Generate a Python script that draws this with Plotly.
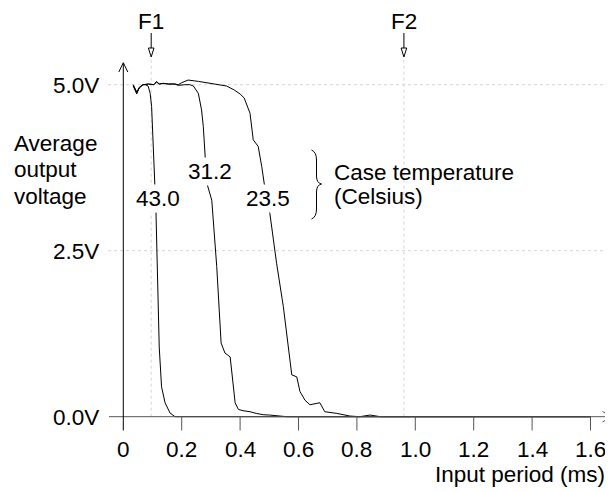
import plotly.graph_objects as go

# ---------------- data ----------------
x_43 = [0.034, 0.046, 0.055, 0.066, 0.075, 0.085, 0.092, 0.097, 0.112, 0.123,
        0.131, 0.143, 0.160, 0.177, 0.30, 0.60, 1.00, 1.60]
v_43 = [4.98, 4.86, 4.96, 5.00, 5.00, 4.98, 4.87, 4.67, 3.07, 1.05,
        0.45, 0.21, 0.056, 0.0, 0.0, 0.0, 0.0, 0.0]

x_31 = [0.034, 0.046, 0.055, 0.068, 0.086, 0.105, 0.114, 0.123, 0.137, 0.154,
        0.177, 0.188, 0.211, 0.228, 0.240, 0.257, 0.268, 0.274, 0.286, 0.303,
        0.320, 0.335, 0.348, 0.366, 0.383, 0.394, 0.410, 0.434, 0.455, 0.479,
        0.500, 0.525, 0.560, 0.80, 1.20, 1.60]
v_31 = [4.99, 4.88, 4.95, 5.00, 5.01, 5.00, 5.05, 5.01, 5.02, 5.01,
        5.01, 4.99, 5.00, 5.00, 4.98, 4.87, 4.62, 4.37, 3.52, 3.26,
        2.26, 1.11, 0.96, 0.90, 0.21, 0.11, 0.09, 0.075, 0.05, 0.03,
        0.025, 0.01, 0.0, 0.0, 0.0, 0.0]

x_23 = [0.034, 0.046, 0.055, 0.068, 0.086, 0.105, 0.114, 0.123, 0.137, 0.154,
        0.177, 0.188, 0.200, 0.222, 0.257, 0.287, 0.320, 0.354, 0.380, 0.400,
        0.414, 0.428, 0.434, 0.445, 0.462, 0.474, 0.485, 0.502, 0.525, 0.548,
        0.577, 0.594, 0.605, 0.622, 0.639, 0.673, 0.690, 0.731, 0.753, 0.776,
        0.810, 0.845, 0.880, 1.20, 1.60]
v_23 = [5.00, 4.89, 4.96, 5.00, 5.01, 5.00, 5.04, 5.01, 5.02, 5.01,
        5.01, 5.00, 5.03, 5.07, 5.05, 5.03, 5.00, 4.98, 4.92, 4.86,
        4.80, 4.64, 4.57, 4.17, 4.07, 3.77, 3.44, 3.06, 2.31, 1.66,
        0.63, 0.60, 0.38, 0.25, 0.18, 0.21, 0.075, 0.05, 0.035, 0.01,
        0.0, 0.025, 0.0, 0.0, 0.0]

curve_labels = ["43.0", "31.2", "23.5"]
label_x = [0.1205, 0.297, 0.497]
label_v = [3.28, 3.70, 3.28]

x_ticks = [0, 0.2, 0.4, 0.6, 0.8, 1.0, 1.2, 1.4, 1.6]
x_tick_text = ["0", "0.2", "0.4", "0.6", "0.8", "1.0", "1.2", "1.4", "1.6"]
y_ticks = [0.0, 2.5, 5.0]
y_tick_text = ["0.0V", "2.5V", "5.0V"]

freq_marks = [0.0955, 0.961]
freq_text = ["F1", "F2"]

# ---------------- geometry helpers (page pixel <-> data) ----------------
PAGE_W, PAGE_H = 613, 492
OFF = 8                          # default body margin of the html page
X0PX, XSCALE = 123.3, 292.0      # page px of x=0, px per ms
Y0PX, YSCALE = 416.7, 66.4       # page px of v=0, px per volt


def dx(p):
    return (p - X0PX) / XSCALE


def dy(p):
    return (Y0PX - p) / YSCALE


def px(x):
    return X0PX + x * XSCALE


XR = [dx(OFF), dx(PAGE_W)]
YR = [dy(PAGE_H), dy(OFF)]

FONT = dict(family="Liberation Sans, Arial, Helvetica, sans-serif", size=22.5, color="#000000")

fig = go.Figure()

for xs, vs in [(x_43, v_43), (x_31, v_31), (x_23, v_23)]:
    fig.add_trace(go.Scatter(x=xs, y=vs, mode="lines",
                             line=dict(color="#000000", width=1),
                             hoverinfo="skip", showlegend=False))

shapes = []
grid = dict(color="#d4d4d4", width=1, dash="dot")
for v in [2.5, 5.0]:
    shapes.append(dict(type="line", xref="x", yref="y", x0=dx(108), x1=dx(PAGE_W), y0=v, y1=v,
                       line=grid, layer="below"))
for f in freq_marks:
    shapes.append(dict(type="line", xref="x", yref="y", x0=f, x1=f, y0=0, y1=dy(58),
                       line=grid, layer="below"))

axis_gray = "#555555"
shapes.append(dict(type="line", xref="x", yref="y", x0=dx(109), x1=dx(611.5), y0=0, y1=0,
                   line=dict(color=axis_gray, width=1)))
shapes.append(dict(type="path", xref="x", yref="y",
                   path=f"M {dx(602.5)},{dy(411.5)} L {dx(612)},{dy(416.7)} L {dx(602.5)},{dy(421.9)}",
                   line=dict(color=axis_gray, width=1)))
for t in x_ticks[1:]:
    shapes.append(dict(type="line", xref="x", yref="y", x0=t, x1=t, y0=0, y1=dy(430.5),
                       line=dict(color=axis_gray, width=1)))
shapes.append(dict(type="line", xref="x", yref="y", x0=0, x1=0, y0=dy(430.5), y1=dy(63.5),
                   line=dict(color="#000000", width=1)))
shapes.append(dict(type="path", xref="x", yref="y",
                   path=f"M {dx(118.8)},{dy(72)} L {dx(123.3)},{dy(62.7)} L {dx(127.8)},{dy(72)}",
                   line=dict(color="#000000", width=1)))
for f in freq_marks:
    shapes.append(dict(type="line", xref="x", yref="y", x0=f, x1=f, y0=dy(33), y1=dy(48),
                       line=dict(color="#000000", width=1)))
    p = px(f)
    shapes.append(dict(type="path", xref="x", yref="y",
                       path=f"M {dx(p - 2.8)},{dy(48)} L {dx(p + 2.8)},{dy(48)} L {dx(p)},{dy(57)} Z",
                       fillcolor="#ffffff", line=dict(color="#000000", width=1)))
bx, btop, bmid, bbot = 311.5, 150, 184, 219
shapes.append(dict(type="path", xref="x", yref="y",
                   path=(f"M {dx(bx)},{dy(btop)} Q {dx(bx + 5)},{dy(btop + 2)} {dx(bx + 5)},{dy(btop + 10)}"
                         f" L {dx(bx + 5)},{dy(bmid - 8)} Q {dx(bx + 5)},{dy(bmid - 1)} {dx(bx + 10)},{dy(bmid)}"
                         f" Q {dx(bx + 5)},{dy(bmid + 1)} {dx(bx + 5)},{dy(bmid + 8)}"
                         f" L {dx(bx + 5)},{dy(bbot - 10)} Q {dx(bx + 5)},{dy(bbot - 2)} {dx(bx)},{dy(bbot)}"),
                   line=dict(color="#000000", width=1)))

ann = []
for t, s in zip(x_ticks, x_tick_text):
    ann.append(dict(x=t, y=dy(449), xref="x", yref="y", text=s, showarrow=False,
                    xanchor="center", yanchor="middle", font=FONT))
for v, s in zip(y_ticks, y_tick_text):
    ann.append(dict(x=dx(100.5), y=v - 1.0 / YSCALE, xref="x", yref="y", text=s, showarrow=False,
                    xanchor="right", yanchor="middle", font=FONT))
ann.append(dict(x=dx(607), y=dy(474), xref="x", yref="y", text="Input period (ms)", showarrow=False,
                xanchor="right", yanchor="middle", font=FONT))
for s, yy in zip(["Average", "output", "voltage"], [143, 169.5, 196]):
    ann.append(dict(x=dx(12), y=dy(yy), xref="x", yref="y", text=s, showarrow=False,
                    xanchor="left", yanchor="middle", font=FONT))
for s, yy in zip(["Case temperature", "(Celsius)"], [172, 196]):
    ann.append(dict(x=dx(332), y=dy(yy), xref="x", yref="y", text=s, showarrow=False,
                    xanchor="left", yanchor="middle", font=FONT))
for s, lx, lv in zip(curve_labels, label_x, label_v):
    ann.append(dict(x=lx, y=lv, xref="x", yref="y", text=s, showarrow=False,
                    xanchor="center", yanchor="middle", font=FONT,
                    bgcolor="#ffffff", borderpad=1))
for f, s in zip(freq_marks, freq_text):
    ann.append(dict(x=f, y=dy(21), xref="x", yref="y", text=s, showarrow=False,
                    xanchor="center", yanchor="middle", font=FONT))

fig.update_layout(
    width=PAGE_W - OFF, height=PAGE_H - OFF,
    margin=dict(l=0, r=0, t=0, b=0),
    paper_bgcolor="#ffffff", plot_bgcolor="#ffffff",
    xaxis=dict(range=XR, visible=False, fixedrange=True),
    yaxis=dict(range=YR, visible=False, fixedrange=True),
    shapes=shapes, annotations=ann, showlegend=False,
)

fig.write_html("out.html")
